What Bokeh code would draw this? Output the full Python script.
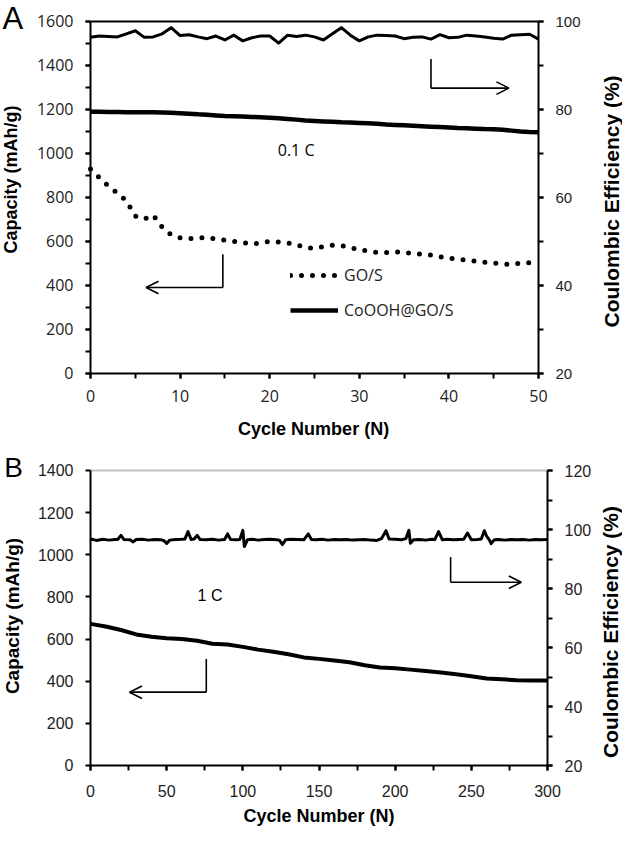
import math
from bokeh.plotting import figure
from bokeh.models import (Range1d, LinearAxis, SingleIntervalTicker, Label, Arrow,
                          OpenHead, Legend, LegendItem)
from bokeh.layouts import column
from bokeh.embed import file_html
from bokeh.resources import INLINE

# ---------------- data: panel A (0.1 C) ----------------
cycles_a = list(range(0, 51))
cap_go_s = [929, 890, 852, 820, 785, 716, 702, 720, 665, 630,
            617, 612, 617, 618, 612, 606, 601, 595, 588, 594,
            600, 598, 594, 585, 572, 570, 576, 583, 581, 572,
            564, 555, 550, 550, 553, 551, 545, 542, 539, 530,
            524, 519, 515, 510, 506, 502, 498, 496, 502, 503, 503]
cap_cooh_a = [1190, 1190, 1189, 1189, 1188, 1188, 1187, 1187, 1186, 1185,
              1183, 1181, 1178, 1176, 1173, 1170, 1169, 1168, 1166, 1165,
              1163, 1160, 1157, 1154, 1150, 1148, 1146, 1144, 1142, 1141,
              1139, 1137, 1135, 1132, 1130, 1128, 1126, 1124, 1122, 1120,
              1118, 1116, 1115, 1113, 1111, 1110, 1108, 1104, 1100, 1098, 1097]
ce_a = [96.4, 96.7, 96.6, 96.5, 97.2, 97.9, 96.4, 96.5, 97.2, 98.6,
        96.8, 97.0, 96.5, 96.1, 96.7, 95.8, 96.9, 95.6, 96.3, 96.7,
        96.7, 95.1, 96.9, 96.6, 96.9, 96.5, 95.8, 97.2, 98.6, 96.9,
        95.6, 96.5, 96.9, 96.8, 96.7, 96.1, 96.4, 96.5, 96.0, 97.0,
        96.3, 96.4, 96.9, 96.7, 96.5, 96.2, 96.0, 96.9, 97.0, 97.1, 96.0]

# ---------------- data: panel B (1 C) ----------------
cycles_b = [0, 10, 20, 30, 40, 50, 60, 70, 80, 90, 100, 110, 120, 130, 140, 150,
            160, 170, 180, 190, 200, 210, 220, 230, 240, 250, 260, 270, 280, 290, 300]
cap_cooh_b = [672, 660, 643, 622, 611, 604, 600, 592, 578, 574, 563, 550, 540, 528, 513, 506,
              498, 490, 476, 465, 461, 455, 448, 441, 433, 424, 413, 409, 405, 403, 403]
ce_b_cycles = [0, 4, 8, 12, 16, 18, 20, 22, 26, 28, 30, 34, 38, 42, 46, 48, 50, 52, 56, 60,
               62, 64, 66, 68, 70, 72, 76, 80, 84, 88, 90, 92, 96, 98, 100, 101, 103, 106,
               110, 114, 118, 122, 124, 126, 128, 132, 136, 140, 143, 145, 148, 152, 156,
               160, 164, 168, 172, 176, 180, 184, 188, 191, 194, 196, 200, 204, 207, 209,
               210, 212, 216, 220, 224, 226, 228.5, 231, 234, 238, 242, 245, 247.5, 250,
               254, 256.5, 258.5, 260, 262, 263, 265, 268, 272, 276, 280, 284, 288, 292,
               296, 300]
ce_b = [96.8, 96.3, 96.7, 96.4, 96.6, 96.7, 98.0, 96.6, 96.5, 95.8, 96.6, 96.7, 96.4, 96.6,
        96.5, 96.3, 95.3, 96.4, 96.6, 96.7, 96.8, 99.3, 96.6, 96.8, 98.0, 96.6, 96.5, 96.7,
        96.4, 96.6, 98.5, 96.6, 96.5, 96.6, 99.7, 94.2, 96.5, 96.7, 96.4, 96.6, 96.7, 96.5,
        96.4, 94.9, 96.5, 96.7, 96.6, 96.5, 98.5, 96.6, 96.5, 96.7, 96.4, 96.6, 96.5, 96.6,
        96.4, 96.5, 96.6, 96.4, 96.3, 96.9, 99.6, 96.8, 96.7, 96.5, 96.9, 99.7, 95.3, 96.5,
        96.6, 96.4, 96.7, 96.6, 99.3, 96.5, 96.7, 96.5, 96.6, 96.7, 98.8, 96.5, 96.6, 96.8,
        99.6, 97.8, 96.3, 95.2, 96.5, 96.6, 96.4, 96.6, 96.5, 96.6, 96.4, 96.6, 96.5, 96.6]

ARIAL = "Liberation Sans"
CALIBRI = "Open Sans"
W = 622


def make_axis(kind, loc, bounds, ticker, font, size, standoff, minor=True,
              color="black", labels=True, range_name="default"):
    kw = dict(fixed_location=loc, bounds=bounds)
    if ticker is not None:
        kw["ticker"] = ticker
    if kind == "y":
        kw["y_range_name"] = range_name
    ax = LinearAxis(**kw)
    ax.axis_line_color = color
    ax.axis_line_width = 2
    ax.major_tick_line_color = "black" if ticker is not None else None
    ax.major_tick_line_width = 2
    ax.major_tick_out = 5
    ax.major_tick_in = 0
    ax.minor_tick_line_color = "black" if (minor and ticker is not None) else None
    ax.minor_tick_line_width = 2
    ax.minor_tick_out = 5
    ax.minor_tick_in = 0
    ax.major_label_text_font = font
    ax.major_label_text_font_size = size
    ax.major_label_text_color = "#222222" if labels else None
    ax.major_label_standoff = standoff
    return ax


def add_text(p, x, y, text, font, size, bold=False, angle=0.0, align="center"):
    p.add_layout(Label(x=x, y=y, text=text, text_font=font, text_font_size=size,
                       text_font_style="bold" if bold else "normal", angle=angle,
                       text_align=align, text_baseline="middle", text_color="black"))


def add_seg(p, x0, y0, x1, y1, head=False):
    p.add_layout(Arrow(x_start=x0, y_start=y0, x_end=x1, y_end=y1, line_width=1.6,
                       line_color="black",
                       end=OpenHead(size=12.5, line_width=1.6, line_color="black") if head else None))


def base_fig(height, xr, yr, er):
    p = figure(width=W, height=height, output_backend="svg", toolbar_location=None,
               x_range=Range1d(*xr), y_range=Range1d(*yr),
               x_axis_location=None, y_axis_location=None,
               min_border=0, min_border_left=0, min_border_right=0,
               min_border_top=0, min_border_bottom=0)
    p.extra_y_ranges = {"ce": Range1d(*er)}
    p.grid.visible = False
    p.outline_line_color = None
    p.background_fill_color = "white"
    p.border_fill_color = "white"
    return p


# ================= Panel A =================
p1 = base_fig(444, (-10.045, 59.375), (-322.73, 1695.45), (3.864, 104.773))
p1.add_layout(make_axis("x", 0, (0, 50), SingleIntervalTicker(interval=10, num_minor_ticks=2),
                        CALIBRI, "16px", 12), "below")
p1.add_layout(make_axis("y", 0, (0, 1600), SingleIntervalTicker(interval=200, num_minor_ticks=2),
                        CALIBRI, "16px", 12), "left")
p1.add_layout(make_axis("y", 50, (20, 100), SingleIntervalTicker(interval=20, num_minor_ticks=2),
                        ARIAL, "15px", 12, range_name="ce"), "right")
p1.add_layout(make_axis("x", 1600, (0, 50), None, ARIAL, "1px", 0, labels=False), "above")

r_go = p1.line(cycles_a, cap_go_s, line_width=5, line_color="black", line_dash="0 11",
               line_cap="round")
r_co = p1.line(cycles_a, cap_cooh_a, line_width=4.5, line_color="black", line_join="round")
p1.line(cycles_a, ce_a, y_range_name="ce", line_width=3, line_color="black", line_join="round")

leg = Legend(items=[LegendItem(label="GO/S", renderers=[r_go]),
                    LegendItem(label="CoOOH@GO/S", renderers=[r_co])],
             location=(290, 123), glyph_width=48, glyph_height=20, label_height=20,
             spacing=13, padding=0, margin=0, label_standoff=6,
             label_text_font=CALIBRI, label_text_font_size="16px", label_text_color="#222222",
             background_fill_alpha=0, border_line_alpha=0)
p1.add_layout(leg)

add_text(p1, -8.67, 1613.6, "A", ARIAL, "31px")
add_text(p1, -8.87, 882, "Capacity (mAh/g)", ARIAL, "18px", bold=True, angle=math.pi / 2)
add_text(p1, 58.1, 782, "Coulombic Efficiency (%)", ARIAL, "21px", bold=True, angle=math.pi / 2)
add_text(p1, 24.9, -254.5, "Cycle Number (N)", ARIAL, "18px", bold=True)
add_text(p1, 20.9, 1018, "0.1 C", CALIBRI, "16px", align="left")

add_seg(p1, 14.77, 542, 14.77, 391)
add_seg(p1, 14.77, 391, 6.2, 391, head=True)
add_seg(p1, 38.0, 1429, 38.0, 1297)
add_seg(p1, 38.0, 1297, 46.7, 1297, head=True)

# ================= Panel B =================
p2 = base_fig(383, (-59.08, 349.23), (-294.24, 1523.39), (-1.017, 128.814))
p2.add_layout(make_axis("x", 0, (0, 300), SingleIntervalTicker(interval=50, num_minor_ticks=2),
                        ARIAL, "16px", 15), "below")
p2.add_layout(make_axis("y", 0, (0, 1400), SingleIntervalTicker(interval=200, num_minor_ticks=2),
                        ARIAL, "16px", 12, minor=False), "left")
p2.add_layout(make_axis("y", 300, (20, 120), SingleIntervalTicker(interval=20, num_minor_ticks=2),
                        ARIAL, "16px", 12, range_name="ce"), "right")
p2.add_layout(make_axis("x", 1400, (0, 300), None, ARIAL, "1px", 0, labels=False,
                        color="#c0c0c0"), "above")

p2.line(cycles_b, cap_cooh_b, line_width=4, line_color="black", line_join="round")
p2.line(ce_b_cycles, ce_b, y_range_name="ce", line_width=3, line_color="black",
        line_join="round")

add_text(p2, -50.5, 1416, "B", ARIAL, "28px")
add_text(p2, -50.9, 709.5, "Capacity (mAh/g)", ARIAL, "19px", bold=True, angle=math.pi / 2)
add_text(p2, 341.5, 633.6, "Coulombic Efficiency (%)", ARIAL, "21px", bold=True, angle=math.pi / 2)
add_text(p2, 150.0, -240.6, "Cycle Number (N)", ARIAL, "18px", bold=True)
add_text(p2, 70.3, 807, "1 C", ARIAL, "16px", align="left")

add_seg(p2, 76, 506, 76, 348)
add_seg(p2, 76, 348, 25.6, 348, head=True)
add_seg(p2, 236.4, 989, 236.4, 870)
add_seg(p2, 236.4, 870, 282.8, 870, head=True)

layout = column(p1, p2)
open("out.html", "w").write(file_html(layout, INLINE))
